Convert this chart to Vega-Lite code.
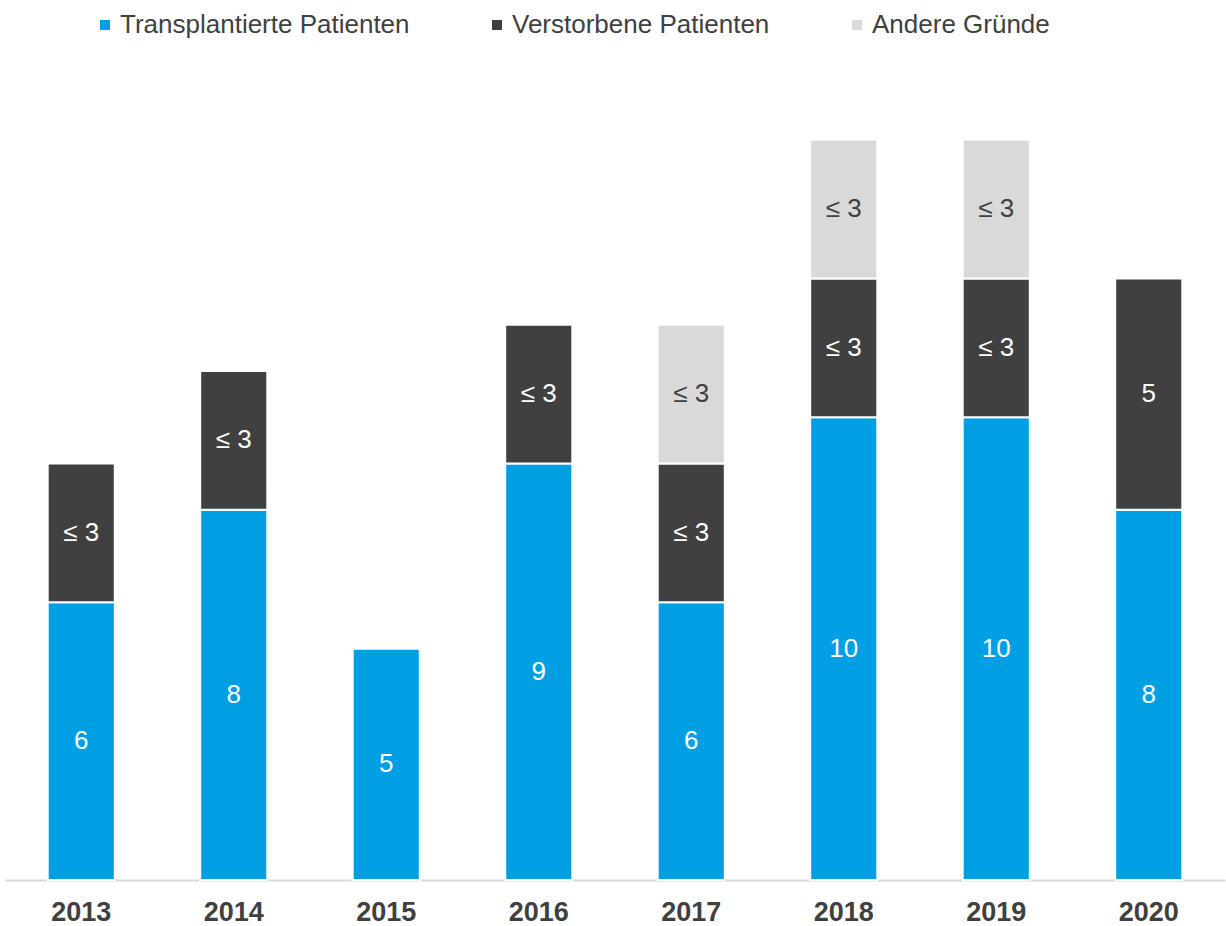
{
  "$schema": "https://vega.github.io/schema/vega-lite/v6.json",
  "width": 1220,
  "height": 782,
  "autosize": {"type": "none"},
  "padding": {"left": 5, "top": 98, "right": 1, "bottom": 46},
  "background": "white",
  "config": {
    "font": "Liberation Sans",
    "view": {"stroke": null}
  },
  "data": {
    "values": [
      {"year": "2013", "category": "Transplantierte Patienten", "value": 6, "label": "6", "ord": 1},
      {"year": "2013", "category": "Verstorbene Patienten", "value": 3, "label": "≤ 3", "ord": 2},
      {"year": "2014", "category": "Transplantierte Patienten", "value": 8, "label": "8", "ord": 1},
      {"year": "2014", "category": "Verstorbene Patienten", "value": 3, "label": "≤ 3", "ord": 2},
      {"year": "2015", "category": "Transplantierte Patienten", "value": 5, "label": "5", "ord": 1},
      {"year": "2016", "category": "Transplantierte Patienten", "value": 9, "label": "9", "ord": 1},
      {"year": "2016", "category": "Verstorbene Patienten", "value": 3, "label": "≤ 3", "ord": 2},
      {"year": "2017", "category": "Transplantierte Patienten", "value": 6, "label": "6", "ord": 1},
      {"year": "2017", "category": "Verstorbene Patienten", "value": 3, "label": "≤ 3", "ord": 2},
      {"year": "2017", "category": "Andere Gründe", "value": 3, "label": "≤ 3", "ord": 3},
      {"year": "2018", "category": "Transplantierte Patienten", "value": 10, "label": "10", "ord": 1},
      {"year": "2018", "category": "Verstorbene Patienten", "value": 3, "label": "≤ 3", "ord": 2},
      {"year": "2018", "category": "Andere Gründe", "value": 3, "label": "≤ 3", "ord": 3},
      {"year": "2019", "category": "Transplantierte Patienten", "value": 10, "label": "10", "ord": 1},
      {"year": "2019", "category": "Verstorbene Patienten", "value": 3, "label": "≤ 3", "ord": 2},
      {"year": "2019", "category": "Andere Gründe", "value": 3, "label": "≤ 3", "ord": 3},
      {"year": "2020", "category": "Transplantierte Patienten", "value": 8, "label": "8", "ord": 1},
      {"year": "2020", "category": "Verstorbene Patienten", "value": 5, "label": "5", "ord": 2}
    ]
  },
  "transform": [
    {"stack": "value", "groupby": ["year"], "sort": [{"field": "ord", "order": "ascending"}], "as": ["v0", "v1"]},
    {"calculate": "(datum.v0 + datum.v1) / 2", "as": "vmid"}
  ],
  "encoding": {
    "x": {
      "field": "year",
      "type": "ordinal",
      "scale": {"paddingInner": 0.56, "paddingOuter": 0.28},
      "axis": {
        "title": null,
        "labelAngle": 0,
        "labelFontSize": 27,
        "labelFontWeight": "bold",
        "labelColor": "#404040",
        "labelPadding": 19,
        "ticks": false,
        "domainColor": "#D9D9D9",
        "domainWidth": 2
      }
    }
  },
  "layer": [
    {
      "mark": {"type": "bar", "stroke": "white", "strokeWidth": 2},
      "encoding": {
        "y": {"field": "v0", "type": "quantitative", "scale": {"domain": [0, 16.9], "nice": false}, "axis": null},
        "y2": {"field": "v1"},
        "color": {
          "field": "category",
          "type": "nominal",
          "scale": {
            "domain": ["Transplantierte Patienten", "Verstorbene Patienten", "Andere Gründe"],
            "range": ["#009FE3", "#404040", "#D9D9D9"]
          },
          "legend": {
            "title": null,
            "orient": "none",
            "legendX": 87,
            "legendY": -86,
            "direction": "horizontal",
            "symbolType": "square",
            "symbolSize": 100,
            "symbolStrokeWidth": 0,
            "labelFontSize": 26,
            "labelColor": "#404040",
            "labelOffset": 2,
            "labelLimit": 400,
            "columnPadding": 74
          }
        }
      }
    },
    {
      "mark": {"type": "text", "fontSize": 26, "baseline": "middle", "align": "center"},
      "encoding": {
        "y": {"field": "vmid", "type": "quantitative", "scale": {"domain": [0, 16.9], "nice": false}},
        "text": {"field": "label"},
        "color": {
          "condition": {"test": "datum.category === 'Andere Gründe'", "value": "#404040"},
          "value": "white"
        }
      }
    }
  ]
}
